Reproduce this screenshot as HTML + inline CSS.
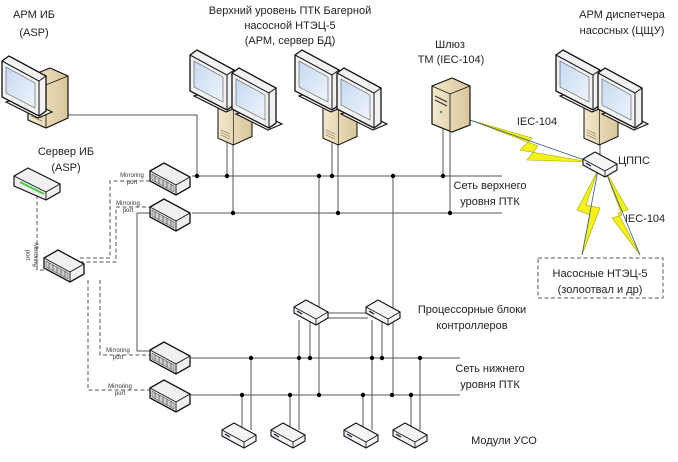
<!DOCTYPE html>
<html><head><meta charset="utf-8"><style>
html,body{margin:0;padding:0;background:#fff}
svg{display:block}
text{font-family:"Liberation Sans","DejaVu Sans",sans-serif;font-size:11px;fill:#222}
.s{font-size:6px;fill:#333}
</style></head><body>
<svg width="678" height="462" viewBox="0 0 678 462" xmlns="http://www.w3.org/2000/svg">
<defs>
<linearGradient id="scr" x1="0" y1="0" x2="1" y2="1"><stop offset="0" stop-color="#c6d9f2"/><stop offset="1" stop-color="#eef4fb"/></linearGradient>
<linearGradient id="tw" x1="0" y1="0" x2="1" y2="0"><stop offset="0" stop-color="#f3e8cc"/><stop offset="1" stop-color="#d9c79a"/></linearGradient>
<g id="mon">
<path d="M4,46 L36,62 L50,56 L20,41 Z" fill="#f4f4f4" stroke="#111" stroke-width="1.1"/>
<path d="M0,5 L7,0 L44,20 L44,55 L37,60 L0,41 Z" fill="#f2f2f2" stroke="#111" stroke-width="1.3"/>
<path d="M0,5 L37,25 L37,60 M37,25 L44,20" fill="none" stroke="#111" stroke-width="1"/>
<path d="M4,11 L33,27 L33,52 L4,37 Z" fill="url(#scr)" stroke="#555" stroke-width="0.6"/>
</g>
<g id="tower">
<path d="M0,9 L22,0 L40,8 L40,50 L18,60 L0,52 Z" fill="url(#tw)" stroke="#111" stroke-width="1.2"/>
<path d="M0,9 L18,17 L40,8 M18,17 L18,60" fill="none" stroke="#111" stroke-width="0.8"/>
<path d="M3,42 L14,47 M3,45 L14,50 M3,48 L14,53" stroke="#8a7a55" stroke-width="0.7"/>
</g>
<g id="dual">
<use href="#tower" x="28" y="46" transform="translate(28,46) scale(0.85) translate(-28,-46)"/>
<use href="#mon" x="0" y="2"/>
<use href="#mon" x="42" y="20"/>
</g>
<g id="sw">
<path d="M0,8 L14,0 L40,14 L40,24 L26,32 L0,18 Z" fill="#f0f0f0" stroke="#111" stroke-width="1.3"/>
<path d="M0,8 L26,22 L40,14 M26,22 L26,32" fill="none" stroke="#111" stroke-width="0.9"/>
<path d="M2,11 L24,23 L24,29 L2,17 Z" fill="#cfcfcf" stroke="#333" stroke-width="0.5"/>
<path d="M5,13 L5,19 M9,15 L9,21 M13,17 L13,23 M17,19 L17,25 M21,21 L21,27" stroke="#333" stroke-width="0.6"/>
</g>
<g id="box">
<path d="M0,7 L12,0 L34,12 L34,18 L22,25 L0,13 Z" fill="#f4f4f4" stroke="#111" stroke-width="1.1"/>
<path d="M0,7 L22,19 L34,12 M22,19 L22,25" fill="none" stroke="#111" stroke-width="0.8"/>
<path d="M3,11 L8,14" stroke="#335" stroke-width="1.4"/>
</g>
</defs>

<g stroke="#555" stroke-width="1" fill="none">
<line x1="192" y1="176" x2="502" y2="176"/>
<line x1="192" y1="213" x2="502" y2="213"/>
<line x1="185" y1="358" x2="460" y2="358"/>
<line x1="185" y1="395" x2="460" y2="395"/>
<path d="M68,115 L197,115 L197,176"/>
<path d="M227,124 L227,176 M233,124 L233,213"/>
<path d="M332,124 L332,176 M338,124 L338,213"/>
<path d="M443,125 L443,176 M450,125 L450,213"/>
<path d="M319,176 L319,395 M393,176 L393,395"/>
<path d="M152,213 L137,213 L137,351 L152,351"/>
<path d="M299,320 L299,358 M310,320 L310,358 M372,320 L372,358 M382,320 L382,358"/>
<path d="M324,313 L368,313 M324,318 L368,318"/>
<path d="M242,395 L242,428 M251,358 L251,430 M290,395 L290,428 M299,358 L299,430"/>
<path d="M363,395 L363,428 M372,358 L372,430 M411,395 L411,428 M420,358 L420,430"/>
<path d="M600,125 L600,155"/>
</g>
<g stroke="#555" stroke-width="1" fill="none" stroke-dasharray="4,2.5">
<path d="M37,195 L37,270 L45,270"/>
<path d="M80,258 L110,258 L110,181 L150,181"/>
<path d="M80,262 L116,262 L116,207 L150,207"/>
<path d="M88,280 L88,390 L152,390"/>
<path d="M100,280 L100,355 L152,355"/>
<rect x="538" y="258" width="125" height="40"/>
</g>
<g fill="#000">
<circle cx="197" cy="176" r="2.2"/><circle cx="227" cy="176" r="2.2"/><circle cx="319" cy="176" r="2.2"/><circle cx="332" cy="176" r="2.2"/><circle cx="393" cy="176" r="2.2"/><circle cx="443" cy="176" r="2.2"/>
<circle cx="233" cy="213" r="2.2"/><circle cx="338" cy="213" r="2.2"/><circle cx="450" cy="213" r="2.2"/>
<circle cx="251" cy="358" r="2.2"/><circle cx="299" cy="358" r="2.2"/><circle cx="310" cy="358" r="2.2"/><circle cx="372" cy="358" r="2.2"/><circle cx="382" cy="358" r="2.2"/><circle cx="420" cy="358" r="2.2"/>
<circle cx="242" cy="395" r="2.2"/><circle cx="290" cy="395" r="2.2"/><circle cx="319" cy="395" r="2.2"/><circle cx="363" cy="395" r="2.2"/><circle cx="392" cy="395" r="2.2"/><circle cx="411" cy="395" r="2.2"/>
</g>
<g fill="#f2f21a" stroke="#a8a800" stroke-width="0.6">
<path d="M470,120 L532,138 L520,150 L590,162 L527,160 L538,146 Z"/>
<path d="M598,170 L586,205 L600,208 L582,255 L590,215 L577,210 Z"/>
<path d="M605,170 L628,210 L618,213 L640,255 L612,218 L622,215 Z"/>
</g>
<g stroke="#3a5a8a" stroke-width="0.8" fill="none"><path d="M470,120 L590,162 M598,170 L582,255 M605,170 L640,255"/></g>

<use href="#tower" x="28" y="68"/>
<use href="#mon" x="2" y="56"/>
<use href="#dual" x="190" y="48"/>
<use href="#dual" x="295" y="48"/>
<use href="#dual" x="556" y="48"/>
<path d="M432,86 L452,78 L470,86 L470,125 L452,132 L432,124 Z" fill="url(#tw)" stroke="#111" stroke-width="1.2"/>
<path d="M432,86 L450,94 L470,86 M450,94 L450,132" fill="none" stroke="#111" stroke-width="0.8"/>
<path d="M435,96 L447,102 M435,100 L447,106" stroke="#333" stroke-width="1.2"/>
<circle cx="441" cy="112" r="1.3" fill="#3a7"/>
<path d="M14,176 L28,168 L60,184 L60,192 L46,200 L14,186 Z" fill="#f0f0f0" stroke="#111" stroke-width="1.2"/>
<path d="M14,176 L46,192 L60,184 M46,192 L46,200" fill="none" stroke="#111" stroke-width="0.9"/>
<path d="M20,182 L44,194" stroke="#4c4" stroke-width="2"/>
<use href="#sw" x="150" y="163"/>
<use href="#sw" x="150" y="199"/>
<use href="#sw" x="44" y="250"/>
<use href="#sw" x="150" y="342"/>
<use href="#sw" x="150" y="380"/>
<use href="#box" x="294" y="300"/>
<use href="#box" x="366" y="300"/>
<use href="#box" x="583" y="152"/>
<use href="#box" x="222" y="423"/>
<use href="#box" x="271" y="423"/>
<use href="#box" x="344" y="423"/>
<use href="#box" x="393" y="423"/>

<g text-anchor="middle">
<text x="34" y="18">АРМ ИБ</text><text x="34" y="36">(ASP)</text>
<text x="290" y="14">Верхний уровень ПТК Багерной</text>
<text x="290" y="29">насосной НТЭЦ-5</text>
<text x="290" y="44">(АРМ, сервер БД)</text>
<text x="450" y="48">Шлюз</text><text x="451" y="63">ТМ (IEC-104)</text>
<text x="622" y="18">АРМ диспетчера</text><text x="622" y="34">насосных (ЦЩУ)</text>
<text x="66" y="155">Сервер ИБ</text><text x="66" y="171">(ASP)</text>
<text x="600" y="277">Насосные НТЭЦ-5</text><text x="600" y="293">(золоотвал и др)</text>
<text x="490" y="189">Сеть верхнего</text><text x="490" y="205">уровня ПТК</text>
<text x="472" y="313">Процессорные блоки</text><text x="472" y="329">контроллеров</text>
<text x="490" y="372">Сеть нижнего</text><text x="490" y="388">уровня ПТК</text>
<text x="504" y="444">Модули УСО</text>
<text x="537" y="125">IEC-104</text>
<text x="645" y="222">IEC-104</text>
</g>
<text x="618" y="164">ЦППС</text>
<g text-anchor="middle">
<text class="s" x="132" y="177">Mirroring</text><text class="s" x="132" y="184">port</text>
<text class="s" x="128" y="205">Mirroring</text><text class="s" x="128" y="212">port</text>
<text class="s" x="118" y="352">Mirroring</text><text class="s" x="118" y="359">port</text>
<text class="s" x="120" y="388">Mirroring</text><text class="s" x="120" y="395">port</text>
<text class="s" transform="translate(34,255) rotate(90)">Mirroring</text>
<text class="s" transform="translate(26,255) rotate(90)">port</text>
</g>
</svg>
</body></html>
